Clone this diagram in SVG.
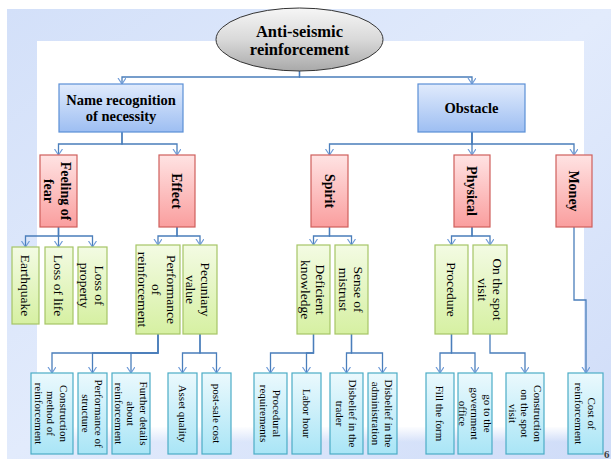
<svg xmlns="http://www.w3.org/2000/svg" width="611" height="459" viewBox="0 0 611 459">
<defs>
<linearGradient id="gEll" x1="0" y1="0" x2="0" y2="1"><stop offset="0" stop-color="#f6f6f6"/><stop offset="0.5" stop-color="#d9d9d9"/><stop offset="1" stop-color="#a9a9a9"/></linearGradient>
<linearGradient id="gTop" x1="0" y1="0" x2="0" y2="1"><stop offset="0" stop-color="#e1ebfc"/><stop offset="1" stop-color="#9dbef2"/></linearGradient>
<linearGradient id="gRed" x1="0" y1="0" x2="0" y2="1"><stop offset="0" stop-color="#ffe3e3"/><stop offset="1" stop-color="#fa9e9e"/></linearGradient>
<linearGradient id="gGrn" x1="0" y1="0" x2="0" y2="1"><stop offset="0" stop-color="#f3fbe3"/><stop offset="1" stop-color="#d6f0a2"/></linearGradient>
<linearGradient id="gCyn" x1="0" y1="0" x2="0" y2="1"><stop offset="0" stop-color="#ebf9fd"/><stop offset="1" stop-color="#a9e5f6"/></linearGradient>
<linearGradient id="gFade" x1="0" y1="0" x2="0" y2="1"><stop offset="0" stop-color="#ffffff" stop-opacity="1"/><stop offset="1" stop-color="#ffffff" stop-opacity="0"/></linearGradient>
<linearGradient id="gBg" x1="0" y1="0" x2="1" y2="1"><stop offset="0" stop-color="#d3e0f9"/><stop offset="0.5" stop-color="#e2ebfc"/><stop offset="1" stop-color="#cfdcf8"/></linearGradient>
<marker id="arr" markerUnits="userSpaceOnUse" markerWidth="10" markerHeight="10" refX="6" refY="4" orient="auto" viewBox="0 0 10 10">
<path d="M0,0 L6,4 L0,8" fill="none" stroke="#6f9bd8" stroke-width="1.2"/>
</marker>
<style>
.conn{fill:none;stroke:#4a7ebb;stroke-width:1.3;marker-end:url(#arr)}
.top{fill:url(#gTop);stroke:#5b8fd6;stroke-width:1.2}
.red{fill:url(#gRed);stroke:#cf5f5c;stroke-width:1.2}
.grn{fill:url(#gGrn);stroke:#a6c566;stroke-width:1.2}
.cyn{fill:url(#gCyn);stroke:#4bacc6;stroke-width:1.2}
text{font-family:"Liberation Serif","Times New Roman",serif;fill:#000;text-anchor:middle}
.t1{font-size:16.5px;font-weight:bold}
.t2{font-size:14.5px;font-weight:bold}
.t3{font-size:14px;font-weight:bold}
.t4{font-size:13.5px}
.t5{font-size:11px}
</style>
</defs>
<rect x="0" y="0" width="611" height="459" fill="#ffffff"/>
<rect x="7" y="9" width="604" height="450" fill="url(#gBg)"/>
<rect x="37" y="41" width="547" height="386" fill="#ffffff"/>
<rect x="37" y="426" width="547" height="16" fill="url(#gFade)"/>

<g id="connectors">
<path class="conn" d="M299.5,71 V77 H122 V84"/>
<path class="conn" d="M299.5,71 V77 H472 V84"/>
<path class="conn" d="M122,132 V144 H58.5 V155"/>
<path class="conn" d="M122,132 V144 H177 V155"/>
<path class="conn" d="M472,132 V144 H329.5 V155"/>
<path class="conn" d="M472,132 V155"/>
<path class="conn" d="M472,132 V144 H574 V155"/>
<path class="conn" d="M58.5,227 V236 H25.5 V247"/>
<path class="conn" d="M58.5,227 V247"/>
<path class="conn" d="M58.5,227 V236 H92.5 V247"/>
<path class="conn" d="M177,227 V236 H158 V245"/>
<path class="conn" d="M177,227 V236 H200 V245"/>
<path class="conn" d="M329.5,227 V236 H313.5 V245"/>
<path class="conn" d="M329.5,227 V236 H351.5 V245"/>
<path class="conn" d="M472,227 V236 H451.5 V245"/>
<path class="conn" d="M472,227 V236 H490 V245"/>
<path class="conn" d="M574,227 V300 H586 V373"/>
<path class="conn" d="M158,334 V353 H52 V373"/>
<path class="conn" d="M158,334 V353 H92.5 V373"/>
<path class="conn" d="M158,334 V353 H131 V373"/>
<path class="conn" d="M200,334 V353 H182.5 V373"/>
<path class="conn" d="M200,334 V353 H216.5 V373"/>
<path class="conn" d="M313.5,334 V353 H270.5 V373"/>
<path class="conn" d="M313.5,334 V353 H306.5 V373"/>
<path class="conn" d="M351.5,334 V353 H346.5 V373"/>
<path class="conn" d="M351.5,334 V353 H382.5 V373"/>
<path class="conn" d="M451.5,334 V353 H440 V373"/>
<path class="conn" d="M451.5,334 V353 H475 V373"/>
<path class="conn" d="M490,334 V353 H525 V373"/>
</g>

<g id="root">
<ellipse cx="299.5" cy="39.5" rx="83.5" ry="31.5" fill="url(#gEll)" stroke="#333333" stroke-width="1"/>
<text class="t1" x="299.5" y="37">Anti-seismic</text>
<text class="t1" x="299.5" y="55">reinforcement</text>
</g>

<g id="name-recognition">
<rect class="top" x="59" y="84" width="124" height="48"/>
<text class="t2" x="121" y="105">Name recognition</text>
<text class="t2" x="121" y="121">of necessity</text>
</g>
<g id="obstacle">
<rect class="top" x="418" y="84" width="107" height="48"/>
<text class="t2" x="471.5" y="113">Obstacle</text>
</g>

<g id="feeling-of-fear">
<rect class="red" x="40" y="155" width="37" height="72"/>
<text class="t3" transform="translate(57.5,191) rotate(90)"><tspan x="0" y="-3.6">Feeling of</tspan><tspan x="0" y="13.4">fear</tspan></text>
</g>
<g id="effect">
<rect class="red" x="159" y="155" width="36" height="72"/>
<text class="t3" transform="translate(177,191) rotate(90)"><tspan x="0" y="4.9">Effect</tspan></text>
</g>
<g id="spirit">
<rect class="red" x="311" y="155" width="37" height="72"/>
<text class="t3" transform="translate(329.5,191) rotate(90)"><tspan x="0" y="4.9">Spirit</tspan></text>
</g>
<g id="physical">
<rect class="red" x="454" y="155" width="36" height="72"/>
<text class="t3" transform="translate(472,191) rotate(90)"><tspan x="0" y="4.9">Physical</tspan></text>
</g>
<g id="money">
<rect class="red" x="556" y="155" width="36" height="72"/>
<text class="t3" transform="translate(574,191) rotate(90)"><tspan x="0" y="4.9">Money</tspan></text>
</g>

<g id="earthquake">
<rect class="grn" x="12" y="247" width="27" height="77"/>
<text class="t4" transform="translate(25.5,285.5) rotate(90)"><tspan x="0" y="4.7">Earthquake</tspan></text>
</g>
<g id="loss-of-life">
<rect class="grn" x="45" y="247" width="28" height="77"/>
<text class="t4" transform="translate(59,285.5) rotate(90)"><tspan x="0" y="4.7">Loss of life</tspan></text>
</g>
<g id="loss-of-property">
<rect class="grn" x="78" y="247" width="29" height="77"/>
<text class="t4" transform="translate(92.5,285.5) rotate(90)"><tspan x="0" y="-2.8">Loss of</tspan><tspan x="0" y="12.2">property</tspan></text>
</g>
<g id="performance">
<rect class="grn" x="136" y="245" width="44" height="89"/>
<text class="t4" transform="translate(157,289.5) rotate(90)"><tspan x="0" y="-9.8">Performance</tspan><tspan x="0" y="4.7">of</tspan><tspan x="0" y="19.2">reinforcement</tspan></text>
</g>
<g id="pecuniary">
<rect class="grn" x="183" y="245" width="34" height="89"/>
<text class="t4" transform="translate(198.5,289.5) rotate(90)"><tspan x="0" y="-2.8">Pecuniary</tspan><tspan x="0" y="12.2">value</tspan></text>
</g>
<g id="deficient-knowledge">
<rect class="grn" x="297" y="245" width="33" height="89"/>
<text class="t4" transform="translate(313.5,289.5) rotate(90)"><tspan x="0" y="-2.8">Deficient</tspan><tspan x="0" y="12.2">knowledge</tspan></text>
</g>
<g id="sense-of-mistrust">
<rect class="grn" x="335" y="245" width="33" height="89"/>
<text class="t4" transform="translate(351.5,289.5) rotate(90)"><tspan x="0" y="-2.8">Sense of</tspan><tspan x="0" y="12.2">mistrust</tspan></text>
</g>
<g id="procedure">
<rect class="grn" x="435" y="245" width="33" height="89"/>
<text class="t4" transform="translate(451.5,289.5) rotate(90)"><tspan x="0" y="4.7">Procedure</tspan></text>
</g>
<g id="on-the-spot-visit">
<rect class="grn" x="473" y="245" width="34" height="89"/>
<text class="t4" transform="translate(490,289.5) rotate(90)"><tspan x="0" y="-2.8">On the spot</tspan><tspan x="0" y="12.2">visit</tspan></text>
</g>

<g id="construction-method">
<rect class="cyn" x="31" y="373" width="42" height="81"/>
<text class="t5" transform="translate(51,413.5) rotate(90)"><tspan x="0" y="-8.6">Construction</tspan><tspan x="0" y="3.9">method of</tspan><tspan x="0" y="16.4">reinforcement</tspan></text>
</g>
<g id="performance-of-structure">
<rect class="cyn" x="78" y="373" width="29" height="81"/>
<text class="t5" transform="translate(92.5,413.5) rotate(90)"><tspan x="0" y="-2.4">Performance of</tspan><tspan x="0" y="10.1">structure</tspan></text>
</g>
<g id="further-details">
<rect class="cyn" x="112" y="373" width="38" height="81"/>
<text class="t5" transform="translate(131,413.5) rotate(90)"><tspan x="0" y="-8.6">Further details</tspan><tspan x="0" y="3.9">about</tspan><tspan x="0" y="16.4">reinforcement</tspan></text>
</g>
<g id="asset-quality">
<rect class="cyn" x="168" y="373" width="29" height="81"/>
<text class="t5" transform="translate(182.5,413.5) rotate(90)"><tspan x="0" y="3.9">Asset quality</tspan></text>
</g>
<g id="post-sale-cost">
<rect class="cyn" x="202" y="373" width="29" height="81"/>
<text class="t5" transform="translate(216.5,413.5) rotate(90)"><tspan x="0" y="3.9">post-sale cost</tspan></text>
</g>
<g id="procedural-requirements">
<rect class="cyn" x="254" y="373" width="33" height="81"/>
<text class="t5" transform="translate(270.5,413.5) rotate(90)"><tspan x="0" y="-2.4">Procedural</tspan><tspan x="0" y="10.1">requirements</tspan></text>
</g>
<g id="labor-hour">
<rect class="cyn" x="292" y="373" width="29" height="81"/>
<text class="t5" transform="translate(306.5,413.5) rotate(90)"><tspan x="0" y="3.9">Labor hour</tspan></text>
</g>
<g id="disbelief-trader">
<rect class="cyn" x="330" y="373" width="33" height="81"/>
<text class="t5" transform="translate(346.5,413.5) rotate(90)"><tspan x="0" y="-2.4">Disbelief in the</tspan><tspan x="0" y="10.1">trader</tspan></text>
</g>
<g id="disbelief-administration">
<rect class="cyn" x="368" y="373" width="29" height="81"/>
<text class="t5" transform="translate(382.5,413.5) rotate(90)"><tspan x="0" y="-2.4">Disbelief in the</tspan><tspan x="0" y="10.1">administration</tspan></text>
</g>
<g id="fill-the-form">
<rect class="cyn" x="426" y="373" width="28" height="81"/>
<text class="t5" transform="translate(440,413.5) rotate(90)"><tspan x="0" y="3.9">Fill the form</tspan></text>
</g>
<g id="government-office">
<rect class="cyn" x="458" y="373" width="34" height="81"/>
<text class="t5" transform="translate(475,413.5) rotate(90)"><tspan x="0" y="-8.6">go to the</tspan><tspan x="0" y="3.9">government</tspan><tspan x="0" y="16.4">office</tspan></text>
</g>
<g id="construction-on-spot">
<rect class="cyn" x="506" y="373" width="38" height="81"/>
<text class="t5" transform="translate(525,413.5) rotate(90)"><tspan x="0" y="-8.6">Construction</tspan><tspan x="0" y="3.9">on the spot</tspan><tspan x="0" y="16.4">visit</tspan></text>
</g>
<g id="cost-of-reinforcement">
<rect class="cyn" x="568" y="373" width="35" height="81"/>
<text class="t5" transform="translate(585.5,413.5) rotate(90)"><tspan x="0" y="-2.4">Cost of</tspan><tspan x="0" y="10.1">reinforcement</tspan></text>
</g>

<text x="604" y="458" style="font-size:11px;font-weight:bold;text-anchor:start;fill:#404040">6</text>
</svg>
